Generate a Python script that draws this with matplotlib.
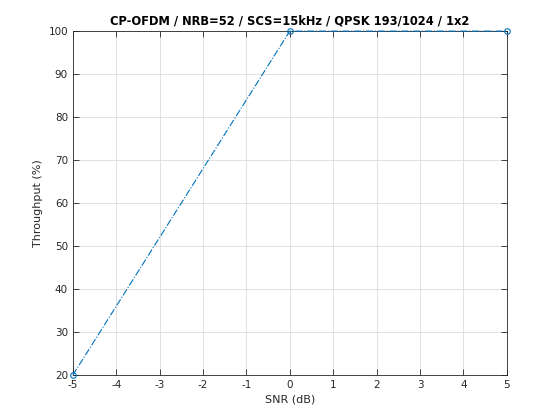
import matplotlib
matplotlib.use('Agg')
import matplotlib.pyplot as plt

plt.rcParams['axes.unicode_minus'] = False

snr = [-5, 0, 5]
throughput = [20, 100, 100]
xticks = [-5, -4, -3, -2, -1, 0, 1, 2, 3, 4, 5]
yticks = [20, 30, 40, 50, 60, 70, 80, 90, 100]

blue = (0, 0.447, 0.741)

fig = plt.figure(figsize=(5.6, 4.2), dpi=100)
ax = fig.add_axes([0.13, 0.107, 0.775, 0.819])
ax.plot(snr, throughput, linestyle='-.', color=blue, linewidth=0.8,
        marker='o', markersize=4, markerfacecolor='none', markeredgewidth=0.8,
        clip_on=False, zorder=5)
ax.set_xlim(-5, 5)
ax.set_ylim(20, 100)
ax.set_xticks(xticks)
ax.set_yticks(yticks)
ax.grid(True, color='#dcdcdc', linewidth=0.6)
ax.set_axisbelow(True)
ax.tick_params(direction='in', length=4, width=0.6, labelsize=7.5, colors='#262626',
               top=True, right=True)
for s in ax.spines.values():
    s.set_linewidth(0.6)
    s.set_color('#262626')
ax.set_xlabel('SNR (dB)', fontsize=8, color='#262626', labelpad=3)
ax.set_ylabel('Throughput (%)', fontsize=8, color='#262626', labelpad=4)
ax.set_title('CP-OFDM / NRB=52 / SCS=15kHz / QPSK 193/1024 / 1x2',
             fontsize=8.3, fontweight='bold', pad=5)
fig.savefig('out.png', dpi=100)
